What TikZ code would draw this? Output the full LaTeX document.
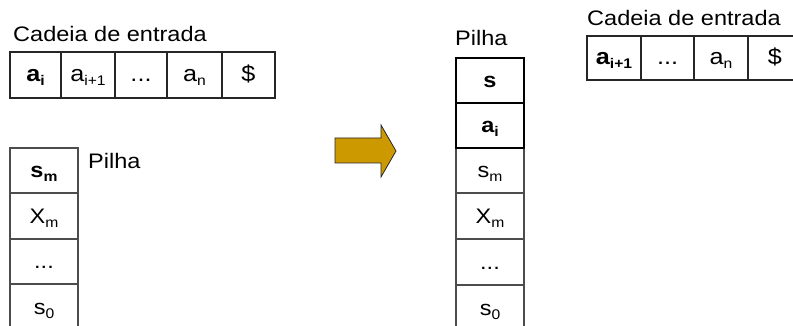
\documentclass[tikz,border=0pt]{standalone}
\usepackage{fontspec}
\setmainfont[FakeStretch=1.12]{Liberation Sans}
\newcommand\lowsub[1]{\raisebox{-4pt}{\fontsize{14}{14}\selectfont #1}}
\newcommand\mainsize{\fontsize{21}{25}\selectfont}
\newcommand\tapesize{\fontsize{22.5}{26}\selectfont}
\definecolor{arrowgold}{HTML}{CC9900}
\tikzset{
  cell/.style={draw=black!70, line width=1.1pt, inner sep=0pt, text height=19pt, text depth=5pt, font=\mainsize},
  tapecell/.style={cell, draw=black!85, minimum height=46pt, font=\tapesize},
  rtapecell/.style={cell, draw=black!85, minimum height=44pt, font=\tapesize},
  stackcell/.style={cell, minimum width=68pt},
  newcell/.style={cell, draw=black, minimum width=68pt, minimum height=45pt},
  label/.style={anchor=base west, inner sep=0pt, font=\mainsize},
}
\begin{document}
\begin{tikzpicture}[x=1pt, y=-1pt]
\useasboundingbox (0,0) rectangle (793,326);
\clip (0,0) rectangle (793,326);

% left input tape
\node[label] (lcad) at (13,42) {Cadeia de entrada};
\node[tapecell, minimum width=51pt] (t1) at (35.5,75) {\textbf{a\lowsub{i}}};
\node[tapecell, minimum width=54pt] (t2) at (88,75) {a\lowsub{i+1}};
\node[tapecell, minimum width=52pt] (t3) at (141,75) {...};
\node[tapecell, minimum width=55pt] (t4) at (194.5,75) {a\lowsub{n}};
\node[tapecell, minimum width=53pt] (t5) at (248.5,75) {\$};

% left stack
\node[label] (lpilha) at (88,168) {Pilha};
\node[stackcell, minimum height=45pt] (s1) at (44,170.5) {\textbf{s\lowsub{m}}};
\node[stackcell, minimum height=46pt] (s2) at (44,216) {X\lowsub{m}};
\node[stackcell, minimum height=45pt] (s3) at (44,261.5) {...};
\node[stackcell, minimum height=46pt] (s4) at (44,307) {s\lowsub{0}};

% transition arrow
\draw[fill=arrowgold, draw=black!85, line width=0.8pt]
  (335,138) -- (381,138) -- (381,125) -- (396,151) -- (381,177) -- (381,163) -- (335,163) -- cycle;

% right stack
\node[label] (rpilha) at (455,46) {Pilha};
\node[stackcell, minimum height=45pt] (r3) at (490,170.5) {s\lowsub{m}};
\node[stackcell, minimum height=46pt] (r4) at (490,216) {X\lowsub{m}};
\node[stackcell, minimum height=46pt] (r5) at (490,262) {...};
\node[stackcell, minimum height=46pt] (r6) at (490,308) {s\lowsub{0}};
\node[newcell] (r1) at (490,80.5) {\textbf{s}};
\node[newcell] (r2) at (490,125.5) {\textbf{a\lowsub{i}}};

% right input tape
\node[label] (rcad) at (587,26) {Cadeia de entrada};
\node[rtapecell, minimum width=54pt] (u1) at (614,58) {\textbf{a\lowsub{i+1}}};
\node[rtapecell, minimum width=53pt] (u2) at (667.5,58) {...};
\node[rtapecell, minimum width=54pt] (u3) at (721,58) {a\lowsub{n}};
\node[rtapecell, minimum width=54pt] (u4) at (775,58) {\$};
\end{tikzpicture}
\end{document}
